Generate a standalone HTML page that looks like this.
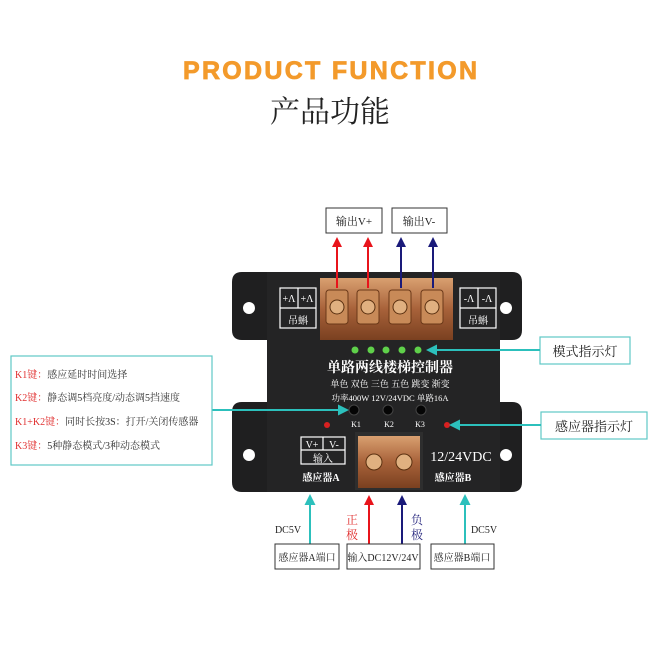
<!DOCTYPE html>
<html><head><meta charset="utf-8"><style>
html,body{margin:0;padding:0;background:#fff;width:658px;height:658px;overflow:hidden}
svg{display:block}
text{font-family:"Liberation Serif","Noto Serif CJK SC","Noto Sans CJK SC",serif}
</style></head><body>
<svg width="658" height="658" viewBox="0 0 658 658" xmlns="http://www.w3.org/2000/svg">
<defs>
<marker id="ar" markerWidth="10" markerHeight="10" refX="5" refY="5" orient="auto" markerUnits="userSpaceOnUse"><path d="M0,0 L10,5 L0,10 Z" fill="#e8141b"/></marker>
<marker id="ab" markerWidth="10" markerHeight="10" refX="5" refY="5" orient="auto" markerUnits="userSpaceOnUse"><path d="M0,0 L10,5 L0,10 Z" fill="#1a1a7a"/></marker>
<marker id="ac" markerWidth="11" markerHeight="11" refX="5" refY="5.5" orient="auto" markerUnits="userSpaceOnUse"><path d="M0,0 L11,5.5 L0,11 Z" fill="#2cc0bc"/></marker>
<linearGradient id="cu" x1="0" y1="0" x2="0" y2="1"><stop offset="0" stop-color="#d9a070"/><stop offset="0.5" stop-color="#a8623a"/><stop offset="1" stop-color="#7a4020"/></linearGradient>
</defs>
<text x="330" y="79" text-anchor="middle" font-weight="bold" font-size="25" fill="#f39a2b" stroke="#f39a2b" stroke-width="0.8" textLength="294" lengthAdjust="spacing" style="font-family:'Liberation Sans',sans-serif">PRODUCT FUNCTION</text>
<text x="330" y="122" text-anchor="middle" font-size="30" fill="#222" style="font-family:'Noto Serif CJK SC',serif">产品功能</text>

<!-- device body -->
<path d="M242,272 H512 Q522,272 522,282 V330 Q522,340 512,340 H500 V402 H512 Q522,402 522,412 V482 Q522,492 512,492 H242 Q232,492 232,482 V412 Q232,402 242,402 H267 V340 H242 Q232,340 232,330 V282 Q232,272 242,272 Z" fill="#1f1f20"/>
<rect x="267" y="272" width="233" height="220" fill="#242425"/>
<circle cx="249" cy="308" r="6" fill="#fff"/><circle cx="506" cy="308" r="6" fill="#fff"/>
<circle cx="249" cy="455" r="6" fill="#fff"/><circle cx="506" cy="455" r="6" fill="#fff"/>
<!-- top terminal -->
<rect x="320" y="278" width="133" height="62" fill="url(#cu)"/>
<g fill="#c88a58" stroke="#6a3818" stroke-width="1">
<rect x="326" y="290" width="22" height="34" rx="3"/><rect x="357" y="290" width="22" height="34" rx="3"/>
<rect x="389" y="290" width="22" height="34" rx="3"/><rect x="421" y="290" width="22" height="34" rx="3"/>
</g>
<g fill="#e0b080" stroke="#5a3010"><circle cx="337" cy="307" r="7"/><circle cx="368" cy="307" r="7"/><circle cx="400" cy="307" r="7"/><circle cx="432" cy="307" r="7"/></g>
<!-- side labels -->
<g stroke="#fff" fill="none" stroke-width="1.2"><rect x="280" y="288" width="36" height="40"/><line x1="280" y1="308" x2="316" y2="308"/><line x1="298" y1="288" x2="298" y2="308"/>
<rect x="460" y="288" width="36" height="40"/><line x1="460" y1="308" x2="496" y2="308"/><line x1="478" y1="288" x2="478" y2="308"/></g>
<g fill="#fff" font-size="10" text-anchor="middle"><text x="289" y="302">+Λ</text><text x="307" y="302">+Λ</text><text x="298" y="324">吊蝌</text>
<text x="469" y="302">-Λ</text><text x="487" y="302">-Λ</text><text x="478" y="324">吊蝌</text></g>
<!-- LEDs -->
<g fill="#5fd04a"><circle cx="355" cy="350" r="3.5"/><circle cx="371" cy="350" r="3.5"/><circle cx="386" cy="350" r="3.5"/><circle cx="402" cy="350" r="3.5"/><circle cx="418" cy="350" r="3.5"/></g>
<text x="390" y="372" text-anchor="middle" fill="#fff" font-size="14" font-weight="bold">单路两线楼梯控制器</text>
<text x="390" y="387" text-anchor="middle" fill="#fff" font-size="9">单色 双色 三色 五色 跳变 渐变</text>
<text x="390" y="401" text-anchor="middle" fill="#fff" font-size="8.5">功率400W 12V/24VDC 单路16A</text>
<g fill="#050505" stroke="#444"><circle cx="354" cy="410" r="5"/><circle cx="388" cy="410" r="5"/><circle cx="421" cy="410" r="5"/></g>
<g fill="#fff" font-size="8" text-anchor="middle"><text x="356" y="427">K1</text><text x="389" y="427">K2</text><text x="420" y="427">K3</text></g>
<circle cx="327" cy="425" r="3" fill="#d82020"/><circle cx="447" cy="425" r="3" fill="#d82020"/>
<!-- bottom terminal -->
<rect x="355" y="432" width="68" height="58" fill="#2e2e2e"/>
<rect x="358" y="436" width="62" height="52" fill="url(#cu)"/>
<g fill="#e0b080" stroke="#5a3010"><circle cx="374" cy="462" r="8"/><circle cx="404" cy="462" r="8"/></g>
<g stroke="#fff" fill="none" stroke-width="1.2"><rect x="301" y="437" width="44" height="27"/><line x1="301" y1="450" x2="345" y2="450"/><line x1="323" y1="437" x2="323" y2="450"/></g>
<g fill="#fff" font-size="10" text-anchor="middle"><text x="312" y="448">V+</text><text x="334" y="448">V-</text><text x="323" y="462">输入</text>
<text x="321" y="481" font-weight="bold">感应器A</text><text x="453" y="481" font-weight="bold">感应器B</text></g>
<text x="461" y="461" text-anchor="middle" fill="#fff" font-size="14">12/24VDC</text>

<!-- top labels and arrows -->
<g stroke="#333" fill="#fff" stroke-width="1"><rect x="326" y="208" width="56" height="25"/><rect x="392" y="208" width="55" height="25"/></g>
<g font-size="11" fill="#222" text-anchor="middle"><text x="354" y="225">输出V+</text><text x="419" y="225">输出V-</text></g>
<g stroke-width="2"><line x1="337" y1="288" x2="337" y2="242" stroke="#e8141b" marker-end="url(#ar)"/><line x1="368" y1="288" x2="368" y2="242" stroke="#e8141b" marker-end="url(#ar)"/>
<line x1="401" y1="288" x2="401" y2="242" stroke="#1a1a7a" marker-end="url(#ab)"/><line x1="433" y1="288" x2="433" y2="242" stroke="#1a1a7a" marker-end="url(#ab)"/></g>

<!-- right labels -->
<g stroke="#5fc8c6" fill="#fff" stroke-width="1.2"><rect x="540" y="337" width="90" height="27"/><rect x="541" y="412" width="106" height="27"/></g>
<g font-size="13" fill="#222" text-anchor="middle"><text x="585" y="356">模式指示灯</text><text x="594" y="431">感应器指示灯</text></g>
<g stroke="#2cc0bc" stroke-width="2"><line x1="540" y1="350" x2="432" y2="350" marker-end="url(#ac)"/><line x1="541" y1="425" x2="455" y2="425" marker-end="url(#ac)"/>
<line x1="212" y1="410" x2="343" y2="410" marker-end="url(#ac)"/></g>

<!-- left box -->
<rect x="11" y="356" width="201" height="109" fill="#fff" stroke="#5fc8c6" stroke-width="1.2"/>
<g font-size="10" fill="#333"><text x="15" y="378"><tspan fill="#e03030">K1键：</tspan>感应延时时间选择</text>
<text x="15" y="401"><tspan fill="#e03030">K2键：</tspan>静态调5档亮度/动态调5挡速度</text>
<text x="15" y="425"><tspan fill="#e03030">K1+K2键：</tspan>同时长按3S：打开/关闭传感器</text>
<text x="15" y="449"><tspan fill="#e03030">K3键：</tspan>5种静态模式/3种动态模式</text></g>

<!-- bottom arrows -->
<g stroke-width="2"><line x1="310" y1="544" x2="310" y2="500" stroke="#2cc0bc" marker-end="url(#ac)"/><line x1="465" y1="544" x2="465" y2="500" stroke="#2cc0bc" marker-end="url(#ac)"/>
<line x1="369" y1="544" x2="369" y2="500" stroke="#e8141b" marker-end="url(#ar)"/><line x1="402" y1="544" x2="402" y2="500" stroke="#1a1a7a" marker-end="url(#ab)"/></g>
<g stroke="#333" fill="#fff" stroke-width="1"><rect x="275" y="544" width="64" height="25"/><rect x="347" y="544" width="73" height="25"/><rect x="431" y="544" width="63" height="25"/></g>
<g font-size="10" fill="#222" text-anchor="middle"><text x="307" y="561">感应器A端口</text><text x="383" y="561">输入DC12V/24V</text><text x="462" y="561">感应器B端口</text>
<text x="288" y="533">DC5V</text><text x="484" y="533">DC5V</text></g>
<g font-size="12" text-anchor="middle"><text x="352" y="524" fill="#e03030">正</text><text x="352" y="539" fill="#e03030">极</text>
<text x="417" y="524" fill="#2a2a80">负</text><text x="417" y="539" fill="#2a2a80">极</text></g>
</svg>
</body></html>
